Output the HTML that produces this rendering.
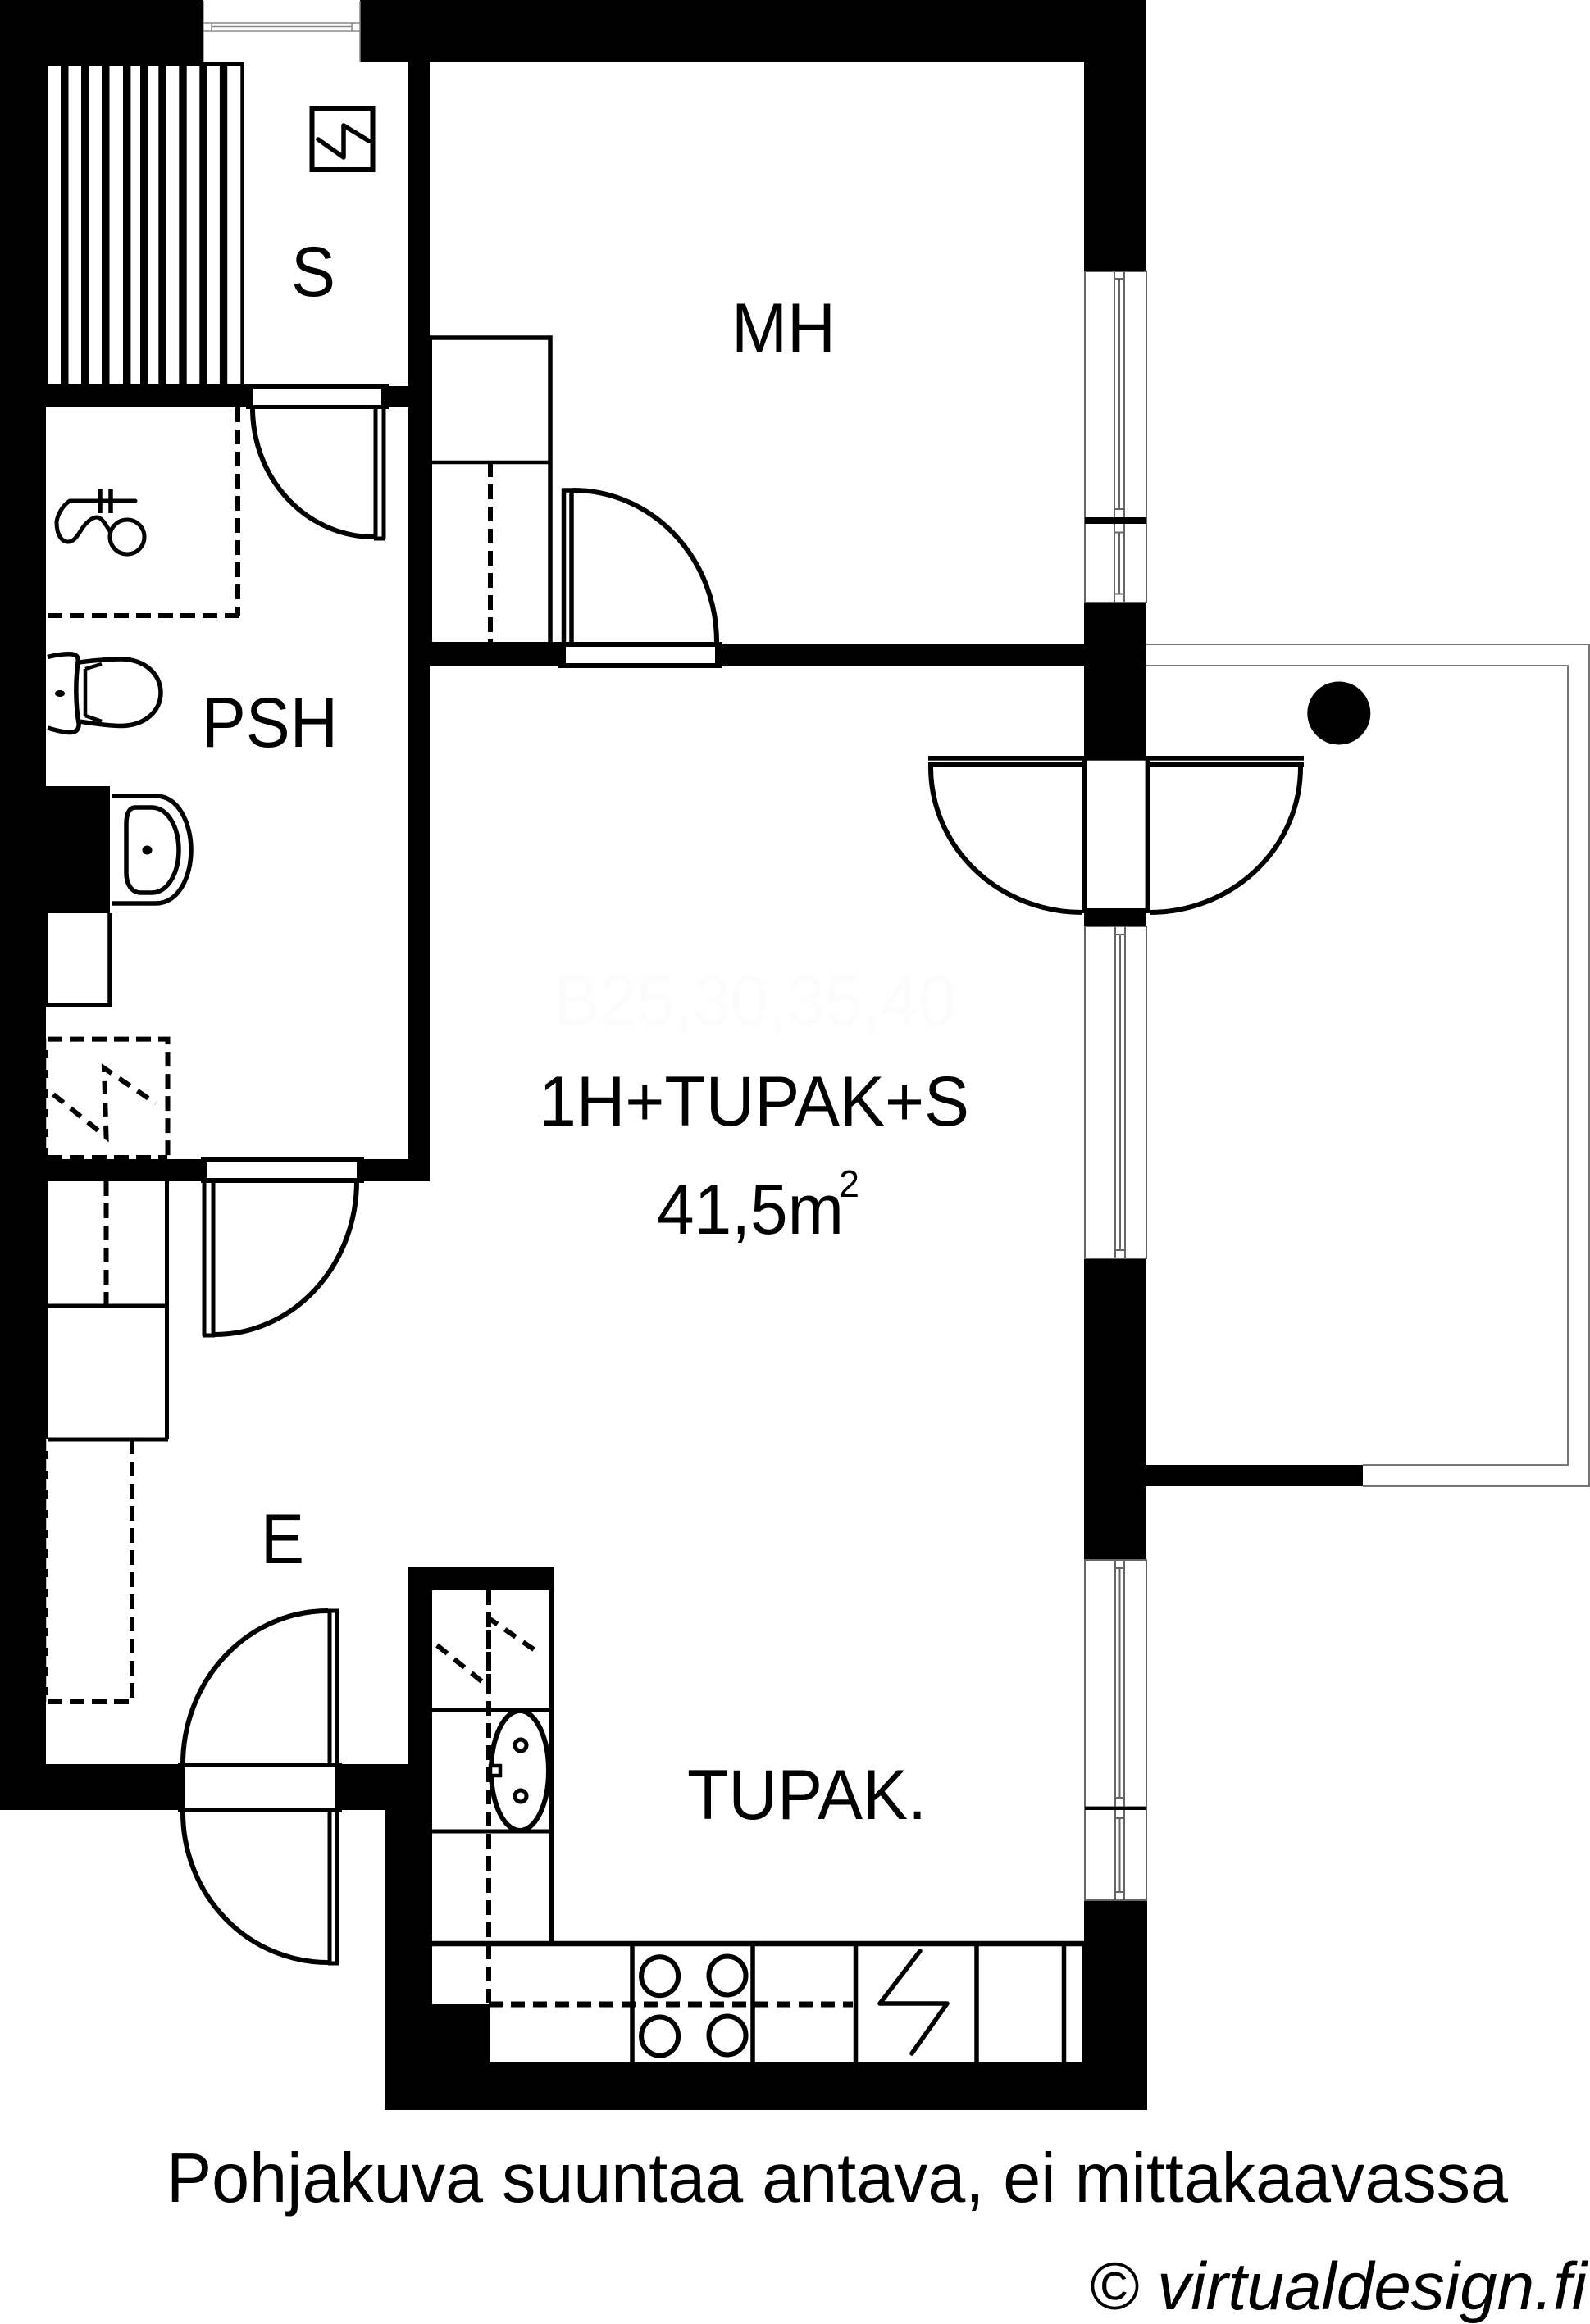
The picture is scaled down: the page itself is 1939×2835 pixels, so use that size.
<!DOCTYPE html>
<html><head><meta charset="utf-8"><style>
html,body{margin:0;padding:0;background:#fff}
svg{display:block}
text{font-family:"Liberation Sans",sans-serif;font-size:86px;fill:#000}
</style></head><body>
<svg xmlns="http://www.w3.org/2000/svg" width="1939" height="2835" viewBox="0 0 1939 2835">
<rect width="1939" height="2835" fill="#fff"/>
<!-- walls -->
<g fill="#000">
<rect x="0" y="0" width="248" height="76"/>
<rect x="439" y="0" width="959" height="76"/>
<rect x="0" y="0" width="56" height="2208"/>
<rect x="0" y="2152" width="223" height="56"/>
<rect x="408" y="2152" width="119" height="56"/>
<rect x="1322" y="0" width="76" height="331"/>
<rect x="1322" y="735" width="76" height="395"/>
<rect x="1322" y="1535" width="76" height="368"/>
<rect x="1322" y="2318" width="77" height="256"/>
<rect x="469" y="2516" width="930" height="58"/>
<rect x="469" y="2208" width="58" height="366"/>
<rect x="498" y="1912" width="29" height="296"/>
<rect x="498" y="1912" width="177" height="28"/>
<rect x="527" y="2445" width="70" height="71"/>
<rect x="498" y="76" width="26" height="1365"/>
<rect x="444" y="1414" width="80" height="27"/>
<rect x="56" y="1414" width="189" height="27"/>
<rect x="56" y="469" width="244" height="28"/>
<rect x="465" y="471" width="33" height="26"/>
<rect x="524" y="783" width="156" height="29"/>
<rect x="881" y="786" width="441" height="26"/>
<rect x="56" y="959" width="78" height="155"/>
<rect x="1398" y="1787" width="264" height="26"/>
<rect x="524" y="412" width="3" height="371"/>
<rect x="56" y="1114" width="2.500" height="114"/>
<rect x="56" y="1267" width="2.500" height="147"/>
<rect x="56" y="1441" width="2.500" height="635"/>
<!-- stripes -->
<rect x="56" y="76" width="242" height="394"/>
<!-- door frames -->
<rect x="300" y="469" width="174" height="30"/>
<rect x="245" y="1412" width="199" height="31"/>
<rect x="680" y="783" width="201" height="32"/>
<rect x="217" y="2151" width="200" height="60"/>
<rect x="1320" y="922" width="82" height="192"/>
<rect x="1132" y="922" width="188" height="14"/>
<rect x="1402" y="922" width="188" height="14"/>
</g>
<g fill="#fff">
<rect x="58.5" y="80" width="15.5" height="388"/>
<rect x="83.5" y="80" width="15.5" height="388"/>
<rect x="108.5" y="80" width="15.5" height="388"/>
<rect x="133.5" y="80" width="16.5" height="388"/>
<rect x="159.4" y="80" width="11.6" height="388"/>
<rect x="180.4" y="80" width="12.9" height="388"/>
<rect x="202.7" y="80" width="15.6" height="388"/>
<rect x="227.7" y="80" width="15.6" height="388"/>
<rect x="252.2" y="80" width="15.7" height="388"/>
<rect x="277.2" y="80" width="16.1" height="388"/>
<rect x="309" y="474" width="156" height="20"/>
<rect x="252" y="1418" width="183" height="19"/>
<rect x="690" y="789" width="182" height="20"/>
<rect x="225" y="2155.5" width="183" height="50"/>
<rect x="1325.6" y="927.7" width="71" height="180.3"/>
<rect x="1132" y="927.7" width="188" height="2.3"/>
<rect x="1402" y="927.7" width="188" height="2.3"/>
</g>
<!-- windows (gray thin) -->
<g fill="none" stroke="#666" stroke-width="2">
<rect x="1323" y="331" width="75" height="404" fill="#fff"/>
<rect x="1359" y="331" width="12" height="404"/>
<path d="M1359 340H1371M1359 621H1371M1359 649.500H1371M1359 724.500H1371M1365 340V621M1365 649.500V724.500"/>
<rect x="1323" y="1130" width="75" height="405" fill="#fff"/>
<rect x="1360" y="1130" width="12" height="405"/>
<path d="M1360 1140H1372M1360 1525H1372M1366 1140V1525"/>
<rect x="1323" y="1903" width="75" height="415" fill="#fff"/>
<rect x="1360" y="1903" width="11" height="415"/>
<path d="M1360 1913H1371M1360 2193H1371M1360 2218H1371M1360 2308H1371M1365.500 1913V2193M1365.500 2218V2308"/>
<path d="M248 1V76M439 1V76M248 28H439M248 38H439M258 28V38M429 28V38M258 32.500H429" stroke="#888" stroke-width="1.500"/>
<path d="M1398 786H1938V1813H1662M1398 812H1912V1787H1662" stroke="#777" stroke-width="2"/>
</g>
<rect x="1323" y="631" width="75" height="8" fill="#000"/>
<rect x="1323" y="2203.600" width="75" height="4.400" fill="#000"/>
<!-- line work -->
<g fill="none" stroke="#000" stroke-width="5.500">
<!-- electrical box -->
<rect x="380.500" y="132" width="74" height="75" stroke-width="6"/>
<path d="M388 170L419 192V153L450 172" stroke-linecap="round" stroke-linejoin="round"/>
<!-- S door -->
<path d="M308 498A148 157 0 0 0 456 655" stroke-width="6"/>
<path d="M458 498V657M468 498V657M456 657H470" stroke-width="5"/>
<!-- PSH door -->
<path d="M435 1441A173 187 0 0 1 262 1628" stroke-width="6"/>
<path d="M249 1441V1630M260 1441V1630M247 1629H262" stroke-width="5"/>
<!-- MH door -->
<path d="M699 598A175 185 0 0 1 874 783" stroke-width="6"/>
<path d="M687.500 596V783M697 596V783M685 598H699" stroke-width="5.500"/>
<!-- MH closet -->
<path d="M524 412H671V783" stroke-width="5.500"/>
<path d="M524 564H673" stroke-width="4.500"/>
<!-- entrance -->
<path d="M223 2152A177 187 0 0 1 400 1965" stroke-width="6"/>
<path d="M223 2211A177 183 0 0 0 400 2394" stroke-width="6"/>
<path d="M402 1964V2152M411 1964V2152M400 1965H413M402 2211V2396M411 2211V2396M400 2395H413" stroke-width="5"/>
<!-- balcony door -->
<path d="M1135 936A185 177 0 0 0 1320 1113" stroke-width="6"/>
<path d="M1586 936A184 177 0 0 1 1402 1113" stroke-width="6"/>
<!-- toilet -->
<path d="M58 801.500C68 799 78 797 88 798C94 799 96 802 95 808C92 830 92 860 96 882C97 890 92 894 84 893.500C74 893 66 890 58 888"/>
<path d="M96 808C112 806 130 804 147 804C176 804 196 822 196 845C196 868 176 885.500 147 885.500C130 885.500 112 882 96 880"/>
<path d="M104 816V873M104 816L124 810M104 873L124 880" stroke-width="4.500"/>
<ellipse cx="73" cy="846" rx="6" ry="4" fill="#000" stroke="none"/>
<!-- sink -->
<path d="M136 971H190C218 971 233 1005 233 1037C233 1069 218 1102 190 1102H136"/>
<path d="M165 985H185C205 985 218 1010 218 1037C218 1064 205 1089 185 1089H172C160 1089 154 1078 154 1065V1005C154 992 158 985 165 985Z"/>
<ellipse cx="179.500" cy="1037" rx="6" ry="5.500" fill="#000" stroke="none"/>
<!-- box under sink -->
<path d="M58 1226H134V1114"/>
<!-- shower -->
<path d="M165 611H85C76 617 70 628 69 637C69 652 75 661 83 661C90 661 94 654 98 648C104 638 112 631 118 631C124 631 129 640 134 648" stroke-linecap="round" stroke-linejoin="round" stroke-width="5"/>
<path d="M122 596V626M135 596V626" stroke-width="5.500"/>
<ellipse cx="155" cy="655" rx="21" ry="21" stroke-width="5"/>
<!-- entry closet -->
<path d="M203.500 1441V1756M58 1593H205M58 1756H205" stroke-width="5"/>
<!-- kitchen column -->
<path d="M672.500 1940V2371" stroke-width="5.500"/>
<path d="M527 2086H675M527 2234H672" stroke-width="5"/>
<path d="M527 2371H1322" stroke-width="6.500"/>
<path d="M771 2374V2516M918 2374V2516M1043.500 2374V2516M1191 2374V2516M1297.500 2374V2516" stroke-width="5.500"/>
<rect x="1320" y="2368" width="3" height="150" fill="#000" stroke="none"/>
<!-- kitchen sink -->
<ellipse cx="634" cy="2160" rx="35" ry="73" stroke-width="6"/>
<ellipse cx="635" cy="2129" rx="7" ry="7" stroke-width="5"/>
<ellipse cx="635" cy="2191" rx="7" ry="7" stroke-width="5"/>
<rect x="598" y="2154" width="12" height="12" stroke-width="4.500" fill="#fff"/>
<!-- hob -->
<ellipse cx="804.600" cy="2410.700" rx="22.500" ry="23.500" stroke-width="6"/>
<ellipse cx="887" cy="2410" rx="22.500" ry="23.500" stroke-width="6"/>
<ellipse cx="804.600" cy="2484" rx="22.500" ry="23.500" stroke-width="6"/>
<ellipse cx="887" cy="2483" rx="22.500" ry="23.500" stroke-width="6"/>
<path d="M1122 2380L1073 2444H1155L1112 2505" stroke-linecap="round" stroke-linejoin="round" stroke-width="5.500"/>
<circle cx="1632.800" cy="870" r="38.500" fill="#000" stroke="none"/>
</g>
<!-- dashed -->
<g fill="none" stroke="#000" stroke-width="6" stroke-dasharray="18 9">
<path d="M290 497V751M58 751H293"/>
<path d="M598 564V783"/>
<path d="M58 1267.600H204.500V1412"/>
<path d="M58 1412H204"/>
<path d="M65 1335L129.500 1387L127 1303L190 1346" stroke-dasharray="16 11"/>
<path d="M129.500 1441V1593"/>
<path d="M58 2076H161V1756" />
<path d="M57.500 1267V1412M57.500 1756V2076" stroke="#fff" stroke-width="2.500" stroke-dasharray="14 10"/>
<path d="M596 1940V2445"/>
<path d="M533 2007L596 2058L596 1974L658 2017" stroke-dasharray="16 11"/>
<path d="M596 2445H1040" stroke-width="7" stroke-dasharray="17 10"/>
</g>
<!-- text -->
<text x="676" y="1250" style="fill:#fcfcfc" textLength="490" lengthAdjust="spacingAndGlyphs">B25,30,35,40</text>
<text x="355" y="361" textLength="54" lengthAdjust="spacingAndGlyphs">S</text>
<text x="892" y="430" textLength="127" lengthAdjust="spacingAndGlyphs">MH</text>
<text x="246" y="911" textLength="166" lengthAdjust="spacingAndGlyphs">PSH</text>
<text x="318" y="1907" textLength="53" lengthAdjust="spacingAndGlyphs">E</text>
<text x="657" y="1373" textLength="525" lengthAdjust="spacingAndGlyphs">1H+TUPAK+S</text>
<text x="801" y="1505" textLength="228" lengthAdjust="spacingAndGlyphs">41,5m</text>
<text x="1023" y="1460" style="font-size:46px" textLength="25" lengthAdjust="spacingAndGlyphs">2</text>
<text x="838" y="2219" textLength="292" lengthAdjust="spacingAndGlyphs">TUPAK.</text>
<text x="203" y="2686" style="font-size:85px" textLength="1636" lengthAdjust="spacingAndGlyphs">Pohjakuva suuntaa antava, ei mittakaavassa</text>
<text x="1328" y="2817" style="font-size:82px;font-style:italic" textLength="607" lengthAdjust="spacingAndGlyphs">© virtualdesign.fi</text>
</svg>
</body></html>
